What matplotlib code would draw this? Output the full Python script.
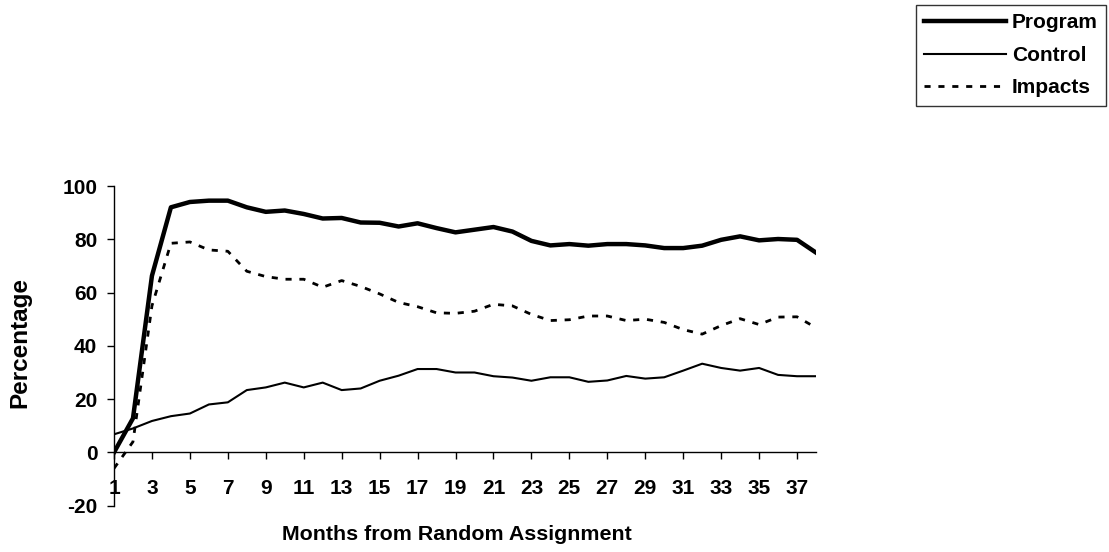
import matplotlib
matplotlib.use("Agg")
import matplotlib.pyplot as plt
from matplotlib.lines import Line2D

plt.rcParams['font.family'] = ['Liberation Sans', 'DejaVu Sans']
plt.rcParams['font.weight'] = 'bold'

months = list(range(1, 39))
program = [0, 12.8, 66.3, 92, 94, 94.5, 94.5, 92, 90.3, 90.8, 89.5, 87.8, 88, 86.3, 86.2,
           84.8, 86.0, 84.2, 82.6, 83.6, 84.6, 82.9, 79.4, 77.7, 78.2, 77.6, 78.2, 78.2,
           77.7, 76.7, 76.7, 77.6, 79.8, 81.1, 79.6, 80.1, 79.8, 75.0]
control = [6.8, 9.0, 11.8, 13.6, 14.6, 18.0, 18.8, 23.4, 24.4, 26.2, 24.4, 26.2, 23.4, 24.0,
           26.9, 28.8, 31.3, 31.3, 30.0, 30.0, 28.6, 28.1, 26.9, 28.2, 28.2, 26.5, 27.0, 28.7,
           27.7, 28.2, 30.7, 33.3, 31.7, 30.7, 31.7, 29.1, 28.6, 28.6]
impacts = [-6.0, 4.0, 55.0, 78.5, 79.0, 76.0, 75.5, 68.0, 66.0, 65.0, 65.0, 62.0, 64.5, 62.3,
           59.5, 56.3, 54.7, 52.4, 52.2, 53.0, 55.6, 55.0, 51.8, 49.5, 49.8, 51.2, 51.2, 49.5,
           50.0, 48.8, 46.1, 44.4, 47.6, 50.2, 48.0, 50.8, 50.9, 46.8]
xtick_months = list(range(1, 38, 2))
yticks = [-20, 0, 20, 40, 60, 80, 100]

W, H = 1109, 552
fig = plt.figure(figsize=(W / 100, H / 100), dpi=100)
left, right, top, bottom = 114, 816, 186, 505.7
ax = fig.add_axes([left / W, 1 - bottom / H, (right - left) / W, (bottom - top) / H])

ax.plot(months, program, color='black', lw=3.2, label='Program')
ax.plot(months, control, color='black', lw=1.5, label='Control')
ax.plot(months, impacts, color='black', lw=2.0, dashes=(2.2, 2.8), label='Impacts')

ax.set_xlim(1, 38)
ax.set_ylim(-20, 100)
ax.spines['top'].set_visible(False)
ax.spines['right'].set_visible(False)
ax.spines['bottom'].set_position(('data', 0))
ax.spines['left'].set_linewidth(1.0)
ax.spines['bottom'].set_linewidth(1.0)

ax.set_yticks(yticks)
ax.set_yticklabels([str(v) for v in yticks])
ax.set_xticks(xtick_months)
ax.set_xticklabels([str(v) for v in xtick_months])
ax.tick_params(axis='y', direction='out', length=5, width=1, labelsize=15, pad=7)
ax.tick_params(axis='x', direction='out', length=5, width=1, labelsize=15, pad=14)
for lab in ax.get_xticklabels() + ax.get_yticklabels():
    lab.set_fontweight('bold')

fig.text(20 / W, 1 - 343 / H, 'Percentage', rotation=90, ha='center', va='center',
         fontsize=17.5, fontweight='bold')
fig.text(457 / W, 1 - 535 / H, 'Months from Random Assignment', ha='center', va='center',
         fontsize=15.4, fontweight='bold')

handles = [Line2D([], [], color='black', lw=3.2),
           Line2D([], [], color='black', lw=1.5),
           Line2D([], [], color='black', lw=2.0, dashes=(2.2, 2.8))]
leg = fig.legend(handles, ['Program', 'Control', 'Impacts'],
                 loc='upper right', bbox_to_anchor=(1106 / W, 1 - 5 / H),
                 fontsize=15, frameon=True, fancybox=False, handlelength=3.9,
                 handletextpad=0.3, borderpad=0.4, labelspacing=0.65, borderaxespad=0)
leg.get_frame().set_edgecolor('black')
leg.get_frame().set_linewidth(1.0)
for t in leg.get_texts():
    t.set_fontweight('bold')

fig.savefig('out.png', dpi=100)
